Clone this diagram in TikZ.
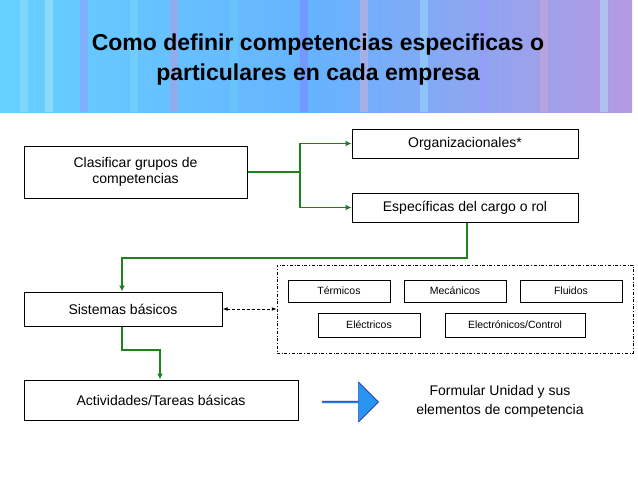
\documentclass[tikz,border=0pt]{standalone}
\usepackage{fontspec}
\setmainfont{Liberation Sans}
\usetikzlibrary{arrows.meta,shapes.arrows}
\definecolor{gr}{RGB}{30,130,30}
\definecolor{bl}{RGB}{40,150,240}
\begin{document}
\begin{tikzpicture}[x=1pt,y=-1pt,
 bx/.style={draw,line width=1pt,inner sep=0pt,font=\fontsize{14}{16}\selectfont},
 sb/.style={draw,line width=1pt,inner sep=0pt,font=\fontsize{10.5}{12}\selectfont},
 gl/.style={draw=gr,line width=1.6pt,-{Latex[length=6pt,width=6pt]}}]
\useasboundingbox (0,0) rectangle (638,479);
\fill[white] (0,0) rectangle (638,479);
\shade[left color=cyan!70!blue!60, right color=blue!45!violet!40, middle color=blue!50!cyan!60] (0,0) rectangle (632,112);
\foreach \x/\c in {20/cyan!40,45/white!70!cyan,80/blue!40,130/cyan!50,170/blue!30!violet!40,230/cyan!60,300/blue!50,360/violet!30,420/cyan!40,480/blue!40,540/violet!35,600/cyan!30}
  \fill[\c,opacity=0.5] (\x,0) rectangle (\x+8,112);
\node (title) at (318,60) [align=center,font=\bfseries\fontsize{23}{30}\selectfont] {Como definir competencias especificas o\\particulares en cada empresa};
\node[bx,minimum width=223pt,minimum height=52pt,align=center] (cl) at (135.5,172) {Clasificar grupos de\\competencias};
\node[bx,minimum width=226pt,minimum height=29pt] (org) at (465,143.5) {Organizacionales*};
\node[bx,minimum width=226pt,minimum height=29pt] (esp) at (465,207.5) {Específicas del cargo o rol};
\node[bx,minimum width=198pt,minimum height=34pt] (sis) at (123,309) {Sistemas básicos};
\node[bx,minimum width=274pt,minimum height=40pt] (act) at (161,400) {Actividades/Tareas básicas};
\node[draw,dash dot,minimum width=356pt,minimum height=88pt,inner sep=0pt] (grp) at (455,309) {};
\node[sb,minimum width=102pt,minimum height=22pt] (t1) at (339,291) {Térmicos};
\node[sb,minimum width=102pt,minimum height=22pt] (t2) at (455,291) {Mecánicos};
\node[sb,minimum width=102pt,minimum height=22pt] (t3) at (571,291) {Fluidos};
\node[sb,minimum width=102pt,minimum height=24pt] (t4) at (369,325) {Eléctricos};
\node[sb,minimum width=140pt,minimum height=24pt] (t5) at (515,325) {Electrónicos/Control};
\coordinate (j) at (300,172);
\draw[draw=gr,line width=1.6pt] (cl.east) -- (j);
\draw[gl] (j) |- (org.west);
\draw[gl] (j) |- (esp.west);
\draw[gl] (esp.south -| 467,0) -- (467,258) -- (122,258) -- (sis.north -| 122,0);
\draw[gl] (sis.south -| 122,0) -- (122,350) -- (160,350) -- (act.north -| 160,0);
\draw[densely dashed,line width=1pt,{Latex[length=5pt]}-{Latex[length=5pt]}] (sis.east) -- (grp.west);
\node[single arrow,draw=blue!60!black,fill=bl,minimum height=56pt,minimum width=40pt,single arrow head extend=4pt,inner sep=0pt] (ar) at (350,402) {};
\node[align=center,font=\fontsize{14}{19}\selectfont] (fu) at (500,401) {Formular Unidad y sus\\elementos de competencia};
\end{tikzpicture}
\end{document}
